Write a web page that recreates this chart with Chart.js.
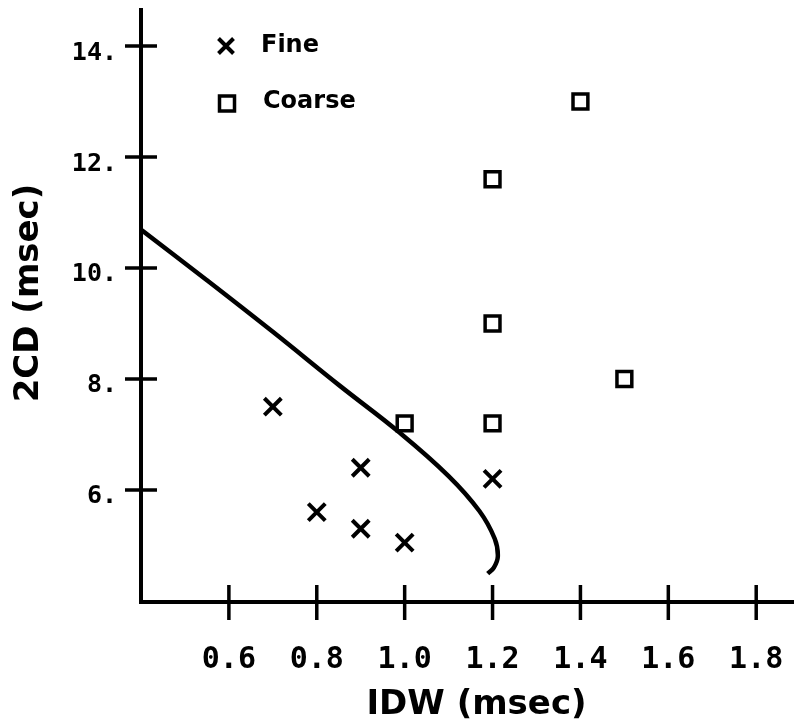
<!DOCTYPE html>
<html>
<head>
    <title>IDW vs 2CD</title>
    <script src="https://cdn.jsdelivr.net/npm/chart.js@4.4.1/dist/chart.umd.min.js"></script>
    <style>
        body { margin: 0; background: #fff; }
        canvas { display: block; }
    </style>
</head>
<body>
    <canvas id="idwChart" width="794" height="725"></canvas>

    <script>
    // Fine discrimination
    const fineIdw = [0.7, 0.8, 0.9, 0.9, 1.0, 1.2];
    const fine2cd = [7.5, 5.6, 6.4, 5.3, 5.05, 6.2];

    // Coarse discrimination
    const coarseIdw = [1.0, 1.2, 1.2, 1.2, 1.4, 1.5];
    const coarse2cd = [7.2, 7.2, 9.0, 11.6, 13.0, 8.0];

    // Boundary curve
    const boundaryIdw = [0.402, 0.55, 0.70, 0.852, 0.989, 1.10, 1.17, 1.205, 1.212, 1.203, 1.189];
    const boundary2cd = [10.68, 9.78, 8.85, 7.88, 7.03, 6.25, 5.62, 5.12, 4.80, 4.60, 4.49];

    const xTickValues = [0.6, 0.8, 1.0, 1.2, 1.4, 1.6, 1.8];
    const yTickValues = [6, 8, 10, 12, 14];

    const toPoints = (xs, ys) => xs.map((x, i) => ({ x: x, y: ys[i] }));

    // crossing tick marks, axis titles and the inset legend
    const decorations = {
        id: 'decorations',
        afterDraw(chart) {
            const ctx = chart.ctx;
            const area = chart.chartArea;
            const xs = chart.scales.x;
            const ys = chart.scales.y;
            ctx.save();
            ctx.strokeStyle = '#000';
            ctx.fillStyle = '#000';
            ctx.lineWidth = 3.5;
            ctx.lineCap = 'butt';
            ctx.beginPath();
            xTickValues.forEach(v => {
                const px = xs.getPixelForValue(v);
                ctx.moveTo(px, area.bottom - 17);
                ctx.lineTo(px, area.bottom + 18);
            });
            yTickValues.forEach(v => {
                const py = ys.getPixelForValue(v);
                ctx.moveTo(area.left - 16, py);
                ctx.lineTo(area.left + 16, py);
            });
            ctx.stroke();

            // axis titles
            ctx.font = 'bold 34px "DejaVu Sans"';
            ctx.textAlign = 'center';
            ctx.textBaseline = 'middle';
            ctx.fillText('IDW (msec)', (area.left + area.right) / 2 + 9, 705);
            ctx.save();
            ctx.translate(29, (area.top + area.bottom) / 2 - 13);
            ctx.rotate(-Math.PI / 2);
            ctx.fillText('2CD (msec)', 0, 0);
            ctx.restore();

            // legend
            const lx = area.left + 85;
            ctx.lineWidth = 4;
            ctx.beginPath();
            ctx.moveTo(lx - 7.5, 38.5); ctx.lineTo(lx + 7.5, 53.5);
            ctx.moveTo(lx + 7.5, 38.5); ctx.lineTo(lx - 7.5, 53.5);
            ctx.stroke();
            ctx.lineWidth = 3.5;
            ctx.strokeRect(lx - 6.5, 96, 15, 15);
            ctx.font = 'bold 24px "DejaVu Sans"';
            ctx.textAlign = 'left';
            ctx.fillText('Fine', lx + 35, 46);
            ctx.fillText('Coarse', lx + 37, 102);
            ctx.restore();
        }
    };

    const ctx = document.getElementById('idwChart').getContext('2d');
    new Chart(ctx, {
        type: 'scatter',
        data: {
            datasets: [
                {
                    label: 'Boundary',
                    data: toPoints(boundaryIdw, boundary2cd),
                    showLine: true,
                    tension: 0.4,
                    borderColor: '#000',
                    borderWidth: 4.5,
                    pointRadius: 0,
                    fill: false
                },
                {
                    label: 'Fine',
                    data: toPoints(fineIdw, fine2cd),
                    pointStyle: 'crossRot',
                    pointRadius: 12,
                    borderColor: '#000',
                    borderWidth: 4
                },
                {
                    label: 'Coarse',
                    data: toPoints(coarseIdw, coarse2cd),
                    pointStyle: 'rect',
                    pointRadius: 10.5,
                    borderColor: '#000',
                    backgroundColor: 'rgba(0,0,0,0)',
                    borderWidth: 3.5
                }
            ]
        },
        options: {
            responsive: false,
            animation: false,
            devicePixelRatio: 1,
            layout: { autoPadding: false, padding: { top: 10, right: 0, left: 0, bottom: 0 } },
            plugins: {
                legend: { display: false },
                tooltip: { enabled: false }
            },
            scales: {
                x: {
                    type: 'linear',
                    min: 0.4,
                    max: 1.886,
                    afterFit: scale => { scale.height = 123; scale.paddingRight = 0; scale.paddingLeft = 0; },
                    afterBuildTicks: scale => { scale.ticks = xTickValues.map(v => ({ value: v })); },
                    grid: { display: false, drawTicks: false },
                    border: { display: true, color: '#000', width: 4 },
                    ticks: {
                        color: '#000',
                        padding: 40,
                        maxRotation: 0,
                        font: { family: '"DejaVu Sans Mono"', size: 30, weight: 'bold' },
                        callback: v => v.toFixed(1)
                    }
                },
                y: {
                    type: 'linear',
                    min: 3.98,
                    max: 14.65,
                    afterFit: scale => { scale.width = 141; scale.paddingTop = 0; scale.paddingBottom = 0; },
                    afterBuildTicks: scale => { scale.ticks = yTickValues.map(v => ({ value: v })); },
                    grid: { display: false, drawTicks: false },
                    border: { display: true, color: '#000', width: 4 },
                    ticks: {
                        color: '#000',
                        padding: 24,
                        labelOffset: 7,
                        font: { family: '"DejaVu Sans Mono"', size: 25, weight: 'bold' },
                        callback: v => v + '.'
                    }
                }
            }
        },
        plugins: [decorations]
    });
    </script>
</body>
</html>
